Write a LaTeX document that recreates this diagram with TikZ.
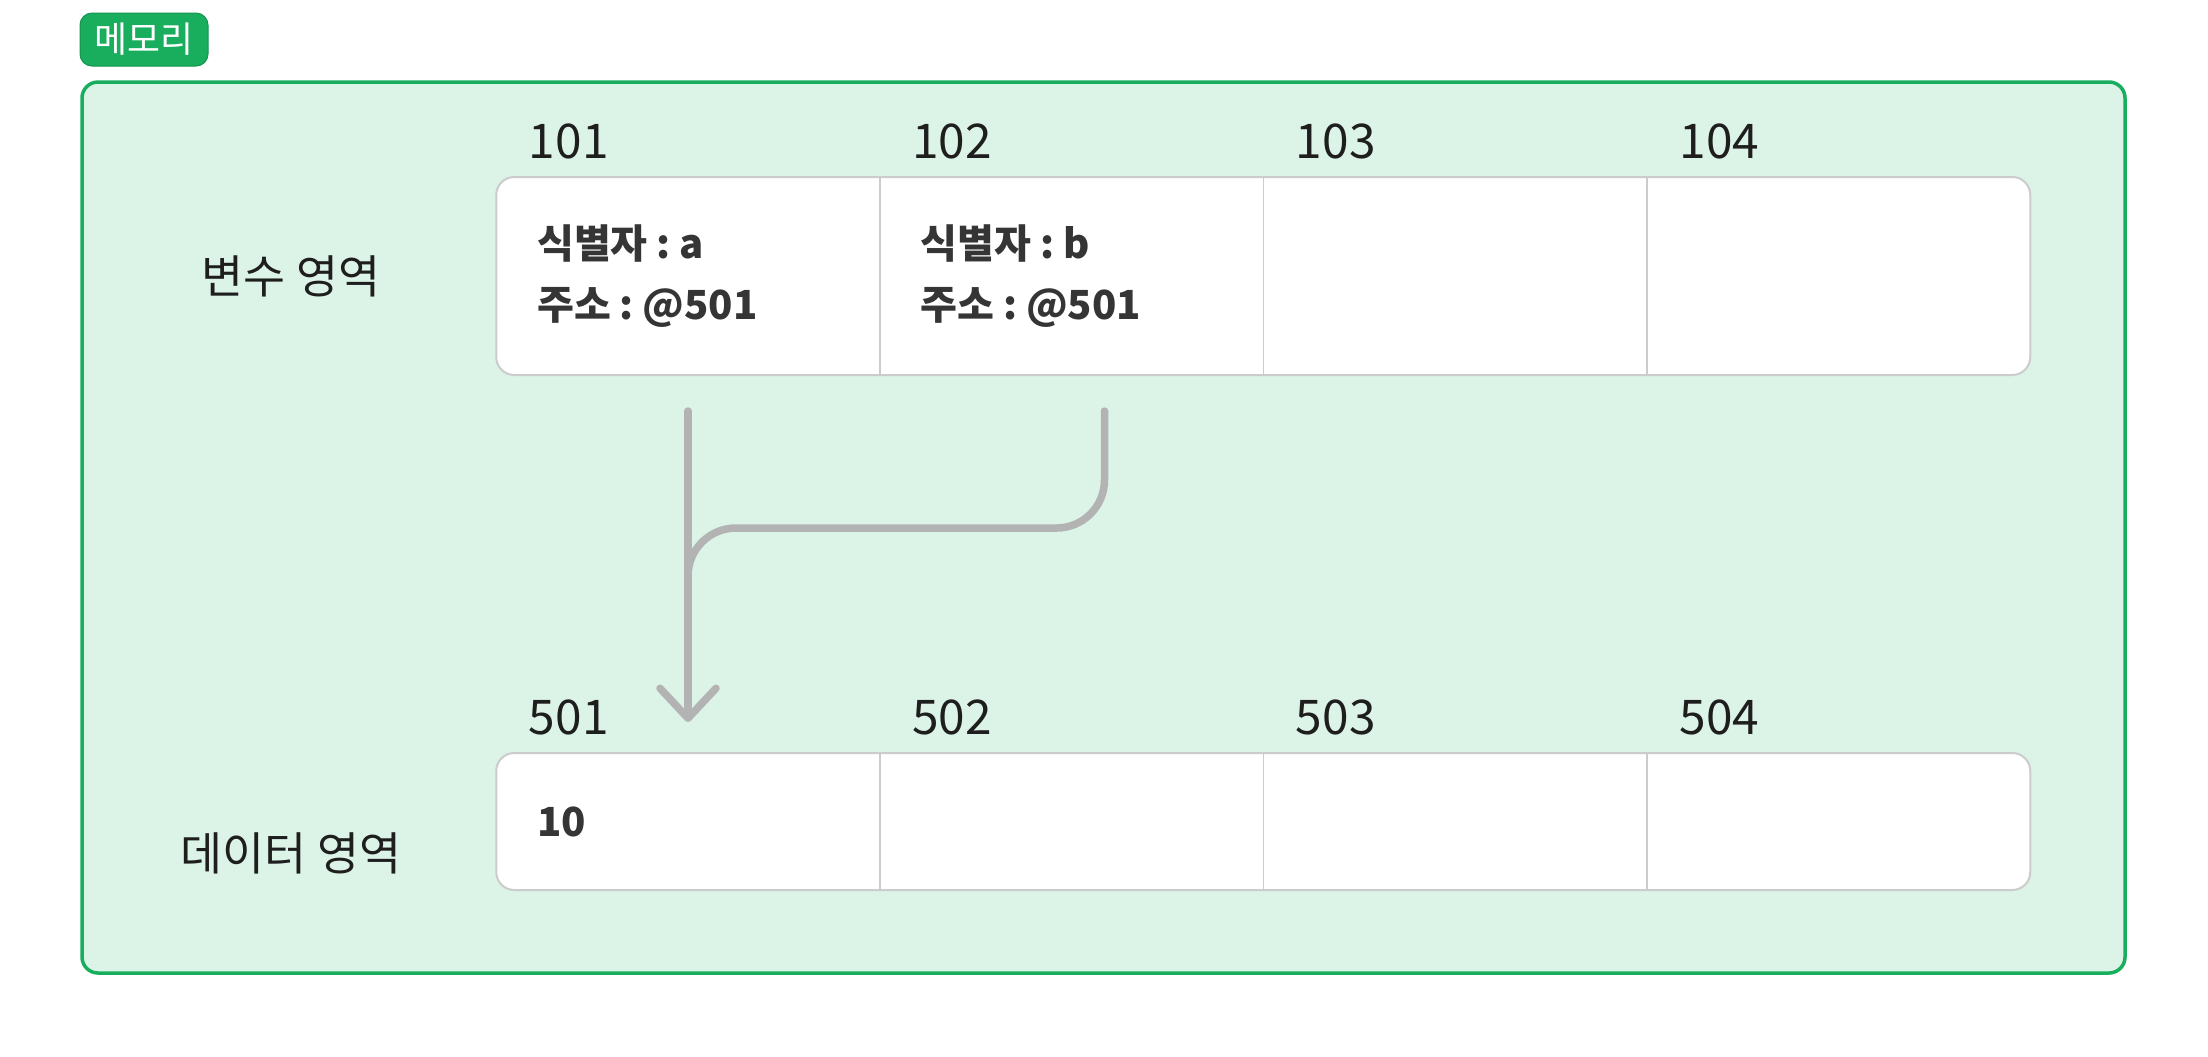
\documentclass[tikz,border=0pt]{standalone}
\usepackage{fontspec}
\setmainfont{Noto Sans CJK KR}
\usetikzlibrary{positioning, backgrounds, arrows.meta}

\definecolor{memgreen}{HTML}{18AE5E}
\definecolor{memfill}{HTML}{DCF3E7}
\definecolor{cellgray}{HTML}{CCCCCC}
\definecolor{linkgray}{HTML}{B3B3B3}
\definecolor{inkdark}{HTML}{1E1E1E}

\newcommand{\colsep}{\hspace{0.22em}:\hspace{0.22em}}

\tikzset{
    cell/.style={minimum width=3.835cm, text width=3.015cm, inner xsep=0.41cm, inner ysep=0pt,
        align=left, outer sep=0pt, text=inkdark!90,
        font=\fontsize{11.4pt}{17.4pt}\selectfont\bfseries},
    addr/.style={inner sep=0pt, text=inkdark, font=\fontsize{13.6pt}{16pt}\selectfont},
    area/.style={inner sep=0pt, text=inkdark, font=\fontsize{13pt}{16pt}\selectfont},
    link/.style={draw=linkgray, line width=0.075cm, line cap=round, line join=round}
}

\begin{document}
\begin{tikzpicture}
    \useasboundingbox (0,0) rectangle (22.08,-10.56);

    % variable area
    \node [cell, minimum height=1.98cm] (v1) at (6.88,-2.76) {식별자\colsep a\\주소\colsep @501};
    \node [cell, minimum height=1.98cm, right=0pt of v1] (v2) {식별자\colsep b\\주소\colsep @501};
    \node [cell, minimum height=1.98cm, right=0pt of v2] (v3) {};
    \node [cell, minimum height=1.98cm, right=0pt of v3] (v4) {};

    % data area
    \node [cell, minimum height=1.37cm] (d1) at (6.88,-8.215) {10};
    \node [cell, minimum height=1.37cm, right=0pt of d1] (d2) {};
    \node [cell, minimum height=1.37cm, right=0pt of d2] (d3) {};
    \node [cell, minimum height=1.37cm, right=0pt of d3] (d4) {};

    \begin{pgfonlayer}{background}
        \draw[memgreen, fill=memfill, line width=0.035cm, rounded corners=0.16cm]
            (0.82,-0.82) rectangle (21.25,-9.73);
        \foreach \Row in {v, d}{
            \draw[cellgray, fill=white, line width=0.02cm, rounded corners=0.18cm]
                (\Row1.north west) rectangle (\Row4.south east);
            \foreach \Col in {1,2,3}{
                \draw[cellgray, line width=0.015cm] (\Row\Col.north east) -- (\Row\Col.south east);
            }
        }
    \end{pgfonlayer}

    \node [draw=memgreen!85!black, fill=memgreen, line width=0.01cm, rounded corners=0.12cm,
        minimum width=1.28cm, minimum height=0.53cm, inner sep=0pt, text=white,
        font=\fontsize{10.2pt}{12pt}\selectfont] (mem) at (1.44,-0.395) {메모리};

    \foreach \Num/\Cell in {101/v1, 102/v2, 103/v3, 104/v4, 501/d1, 502/d2, 503/d3, 504/d4}{
        \node [addr, anchor=base west] (l\Num) at ([xshift=0.32cm, yshift=0.19cm]\Cell.north west) {\Num};
    }

    \node [area] (varea) at (2.91,-2.76) {변수 영역};
    \node [area] (darea) at (2.91,-8.53) {데이터 영역};

    \coordinate (atop) at ([yshift=-0.36cm]v1.south);
    \coordinate (btop) at ([xshift=0.33cm, yshift=-0.36cm]v2.south);
    \coordinate (tip) at ([yshift=0.31cm]d1.north);
    \draw [link, rounded corners=0.48cm] (btop) -- ++(0,-1.17) -| ([yshift=0.9cm]tip);
    \draw [link, -{Straight Barb[length=0.3cm, width=0.56cm, round]}] (atop) -- (tip);
\end{tikzpicture}
\end{document}
